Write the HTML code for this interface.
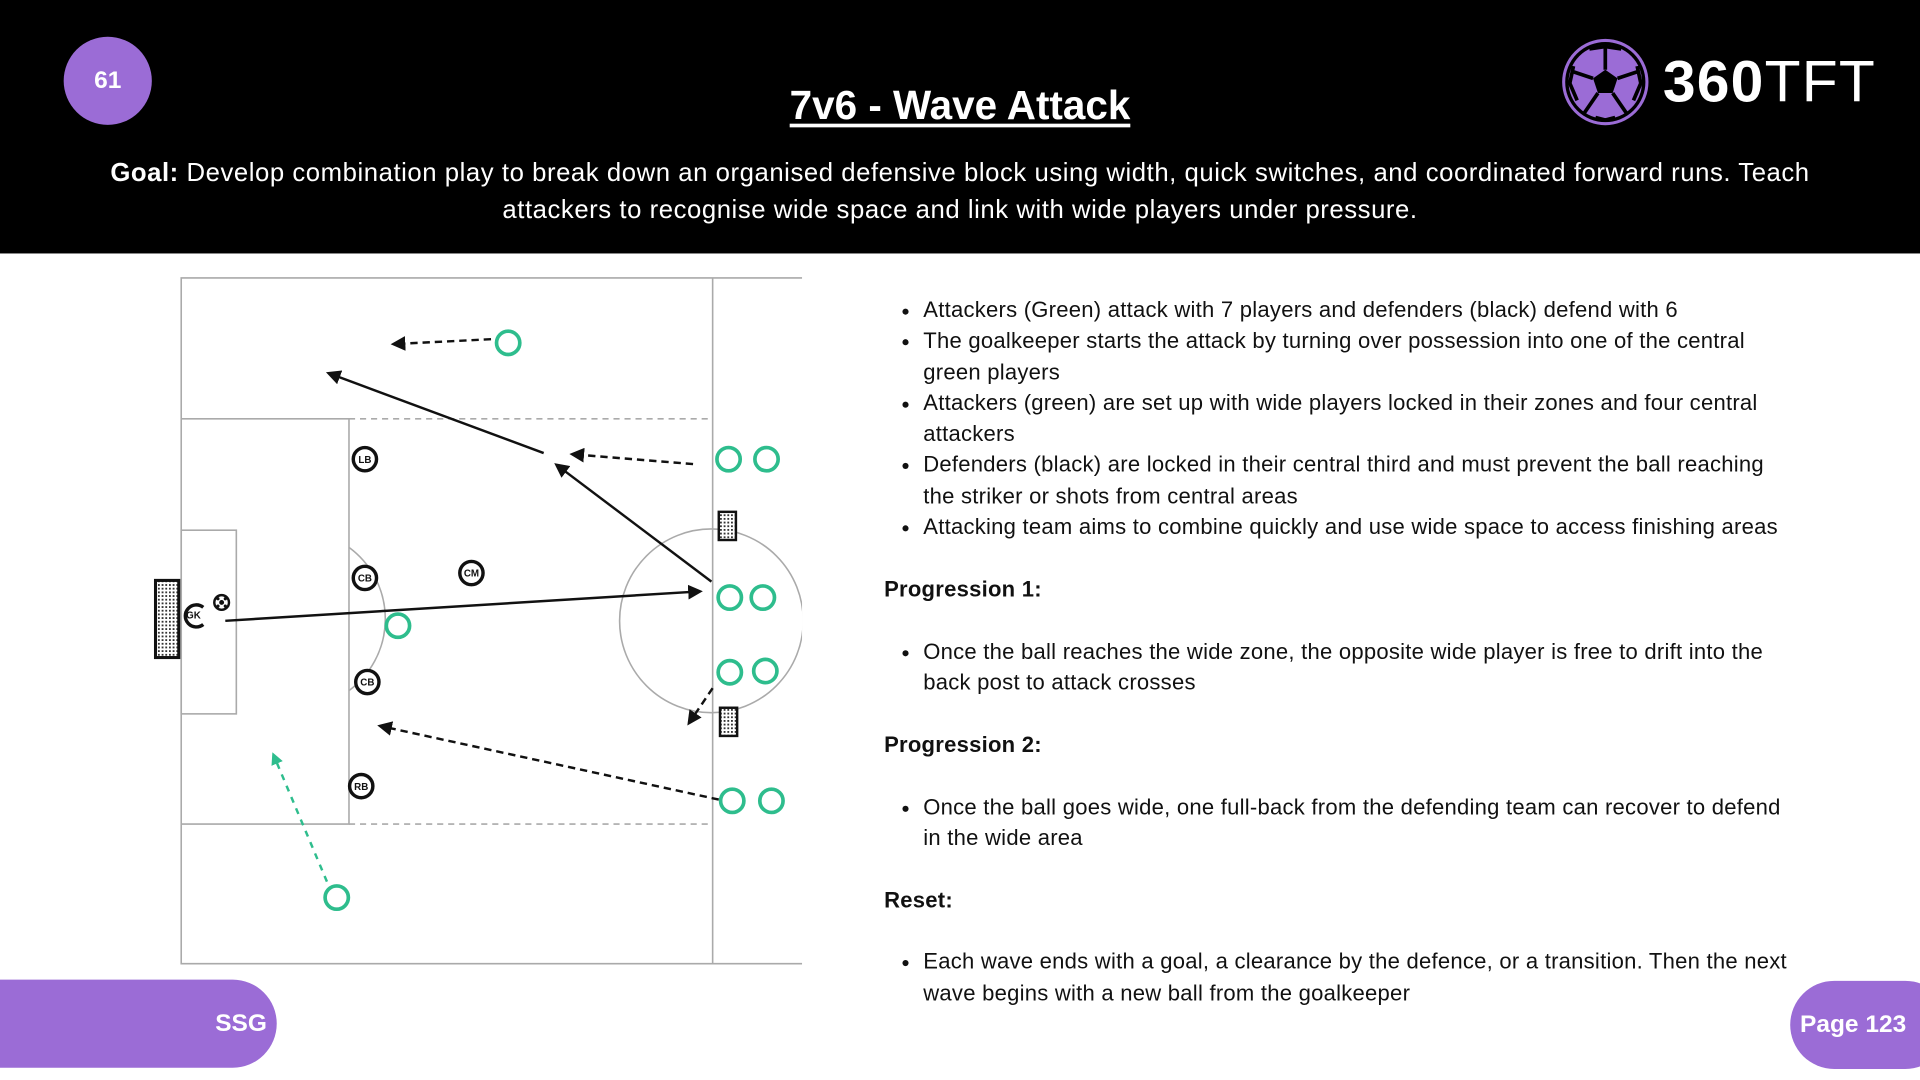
<!DOCTYPE html>
<html><head><meta charset="utf-8"><style>
html,body{margin:0;padding:0;width:1920px;height:1080px;overflow:hidden;background:#fff}
#s{position:absolute;left:0;top:0;width:1568px;height:882px;transform:scale(1.2244898);transform-origin:0 0;font-family:"Liberation Sans",sans-serif;background:#fff}
.hdr{position:absolute;left:0;top:0;width:1568px;height:207px;background:#000}
.num{position:absolute;left:52px;top:30px;width:72px;height:72px;border-radius:50%;background:#9b6cd6;color:#fff;font-weight:bold;font-size:20px;line-height:72px;text-align:center}
.title{position:absolute;left:0;width:1568px;top:67px;text-align:center;color:#fff;font-weight:bold;font-size:33px;text-decoration:underline;text-underline-offset:4px}
.goal{position:absolute;left:84px;width:1400px;top:127px;text-align:center;color:#fff;font-size:21px;letter-spacing:0.45px;line-height:30px}
.logo{position:absolute;left:1358px;top:40px;color:#fff;font-size:48px;letter-spacing:1px}
.txt{position:absolute;left:722px;top:241px;width:745px;font-size:18px;letter-spacing:0.2px;line-height:25.3px;color:#111}
.txt ul{margin:0;padding-left:32px}
.txt p{margin:0;font-weight:bold}
.pill{position:absolute;background:#9b6cd6;color:#fff;font-weight:bold;font-size:20px}
</style></head><body><div id="s">
<div class="hdr"></div>
<div class="num">61</div>
<div class="title">7v6 - Wave Attack</div>
<div class="goal"><b>Goal:</b> Develop combination play to break down an organised defensive block using width, quick switches, and coordinated forward runs. Teach attackers to recognise wide space and link with wide players under pressure.</div>
<svg style="position:absolute;left:1274px;top:30px" width="74" height="74" viewBox="0 0 74 74">
<circle cx="37" cy="37" r="34" fill="#000" stroke="#9b6cd6" stroke-width="2.5"/>
<circle cx="37" cy="37" r="30" fill="#9b6cd6"/>
<polygon points="37,27 47,34 43,46 31,46 27,34" fill="#000"/>
<g stroke="#000" stroke-width="3"><line x1="37" y1="27" x2="37" y2="8"/><line x1="47" y1="34" x2="65" y2="28"/><line x1="43" y1="46" x2="54" y2="62"/><line x1="31" y1="46" x2="20" y2="62"/><line x1="27" y1="34" x2="9" y2="28"/>
<path d="M24 10 L37 8 L50 10 M63 24 L66 38 L60 52 M45 66 L37 68 L29 66 M14 52 L8 38 L11 24" fill="none"/></g>
</svg>
<div class="logo"><b>360</b>TFT</div>

<svg style="position:absolute;left:0;top:207px" width="700" height="600" viewBox="0 207 700 600">
<defs><clipPath id="cp"><rect x="0" y="207" width="655" height="600"/></clipPath>
<pattern id="net" width="3" height="3" patternUnits="userSpaceOnUse"><rect width="3" height="3" fill="#fff"/><rect width="1.5" height="1.5" fill="#333"/></pattern>
<marker id="ag" markerWidth="10" markerHeight="10" refX="6" refY="5" orient="auto" markerUnits="userSpaceOnUse"><path d="M0 0 L10 5 L0 10 Z" fill="#2ebd8d"/></marker>
<marker id="ab" markerWidth="12" markerHeight="12" refX="9" refY="6" orient="auto" markerUnits="userSpaceOnUse"><path d="M0 0 L12 6 L0 12 Z" fill="#111"/></marker></defs>
<g fill="none" stroke="#aaa" stroke-width="1.3">
<path d="M655 227 H148 V787 H655"/>
<line x1="582" y1="227" x2="582" y2="787"/>
<path d="M148 342 H285 V673 H148"/>
<rect x="148" y="433" width="45" height="150"/>
<path d="M285 447 A72.5 72.5 0 0 1 285 564"/>
<circle cx="581" cy="507" r="75" clip-path="url(#cp)"/>
<g stroke-dasharray="5 4"><line x1="285" y1="342" x2="582" y2="342"/><line x1="285" y1="673" x2="582" y2="673"/></g>
</g>
<rect x="127" y="474" width="19" height="63" fill="url(#net)" stroke="#111" stroke-width="2.5"/>
<rect x="587" y="418" width="14" height="23" fill="url(#net)" stroke="#111" stroke-width="2"/>
<rect x="588" y="578" width="14" height="23" fill="url(#net)" stroke="#111" stroke-width="2"/>
<g stroke="#111" stroke-width="2" fill="none">
<line x1="184" y1="507" x2="571" y2="483" marker-end="url(#ab)"/>
<line x1="581" y1="475" x2="455" y2="380" marker-end="url(#ab)"/>
<line x1="444" y1="370" x2="269" y2="305" marker-end="url(#ab)"/>
<g stroke-dasharray="6 4">
<line x1="401" y1="277" x2="322" y2="281" marker-end="url(#ab)"/>
<line x1="566" y1="379" x2="468" y2="371" marker-end="url(#ab)"/>
<line x1="587" y1="653" x2="311" y2="593" marker-end="url(#ab)"/>
<line x1="582" y1="562" x2="563" y2="590" marker-end="url(#ab)"/>
</g>
<line x1="267" y1="720" x2="224" y2="618" stroke="#2ebd8d" stroke-dasharray="5 5" marker-end="url(#ag)"/>
</g>
<g fill="#fff" stroke="#2ebd8d" stroke-width="3">
<circle cx="415" cy="280" r="9.5"/><circle cx="595" cy="375" r="9.5"/><circle cx="626" cy="375" r="9.5"/>
<circle cx="596" cy="488" r="9.5"/><circle cx="623" cy="488" r="9.5"/><circle cx="596" cy="549" r="9.5"/><circle cx="625" cy="548" r="9.5"/>
<circle cx="598" cy="654" r="9.5"/><circle cx="630" cy="654" r="9.5"/><circle cx="325" cy="511" r="9.5"/><circle cx="275" cy="733" r="9.5"/>
</g>
<g fill="#fff" stroke="#111" stroke-width="2.8">
<circle cx="298" cy="375" r="9.5"/><circle cx="298" cy="472" r="9.5"/><circle cx="385" cy="468" r="9.5"/><circle cx="300" cy="557" r="9.5"/><circle cx="295" cy="642" r="9.5"/>
<path d="M166 496 A9 9 0 1 0 166 510" />
<circle cx="181" cy="492" r="6" stroke-width="2"/>
</g>
<g fill="#111"><circle cx="181" cy="492" r="2"/><circle cx="178" cy="489" r="1.3"/><circle cx="184" cy="489" r="1.3"/><circle cx="178" cy="495" r="1.3"/><circle cx="184" cy="495" r="1.3"/></g>
<g font-family="Liberation Sans,sans-serif" font-size="8" text-anchor="middle" fill="#111" font-weight="bold">
<text x="298" y="378">LB</text><text x="298" y="475">CB</text><text x="385" y="471">CM</text><text x="300" y="560">CB</text><text x="295" y="645">RB</text><text x="158" y="505">GK</text>
</g>
</svg>

<div class="txt">
<ul><li>Attackers (Green) attack with 7 players and defenders (black) defend with 6</li>
<li>The goalkeeper starts the attack by turning over possession into one of the central green players</li>
<li>Attackers (green) are set up with wide players locked in their zones and four central attackers</li>
<li>Defenders (black) are locked in their central third and must prevent the ball reaching the striker or shots from central areas</li>
<li>Attacking team aims to combine quickly and use wide space to access finishing areas</li></ul>
<p style="margin-top:25.5px">Progression 1:</p>
<ul style="margin-top:25.5px"><li>Once the ball reaches the wide zone, the opposite wide player is free to drift into the back post to attack crosses</li></ul>
<p style="margin-top:25.5px">Progression 2:</p>
<ul style="margin-top:25.5px"><li>Once the ball goes wide, one full-back from the defending team can recover to defend in the wide area</li></ul>
<p style="margin-top:25.5px">Reset:</p>
<ul style="margin-top:25.5px"><li>Each wave ends with a goal, a clearance by the defence, or a transition. Then the next wave begins with a new ball from the goalkeeper</li></ul>
</div>
<div class="pill" style="left:0;top:800px;width:226px;height:72px;border-radius:0 36px 36px 0;line-height:72px;text-align:right;box-sizing:border-box;padding-right:8px">SSG</div>
<div class="pill" style="left:1462px;top:801px;width:130px;height:72px;border-radius:36px;line-height:72px;padding-left:8px;box-sizing:border-box">Page 123</div>
</div></body></html>
